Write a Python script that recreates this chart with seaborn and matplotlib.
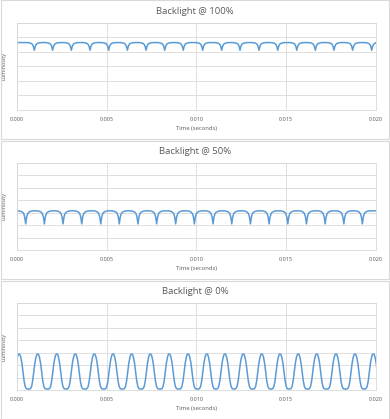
import matplotlib
matplotlib.use("Agg")
import matplotlib.pyplot as plt
from matplotlib.patches import Rectangle
from matplotlib.ticker import FormatStrFormatter
import numpy as np
import pandas as pd
import seaborn as sns

# panel titles and y ranges (gridline count differs on the first panel)
titles = ["Backlight @ 100%", "Backlight @ 50%", "Backlight @ 0%"]
y_max = [6, 7, 7]
x_ticks = [0.000, 0.005, 0.010, 0.015, 0.020]

# dip centres (ms)
dips_100 = [0.98, 2.00, 3.04, 4.08, 5.12, 6.16, 7.20, 8.24, 9.27, 10.35,
            11.41, 12.43, 13.49, 14.53, 15.59, 16.62, 17.66, 18.70, 19.76]
dips_50 = [0.50, 1.54, 2.58, 3.62, 4.68, 5.71, 6.75, 7.79, 8.85, 9.89,
           10.93, 11.97, 13.01, 14.05, 15.09, 16.13, 17.17, 18.21, 19.24]
# peak centres of the 0% trace (ms)
peaks_0 = [0.13, 1.17, 2.23, 3.26, 4.32, 5.36, 6.40, 7.44, 8.49, 9.54,
           10.58, 11.59, 12.61, 13.64, 14.66, 15.67, 16.70, 17.77, 18.83, 19.85]

# level and dip bottom of the two upper traces
level_100, bottom_100 = 4.65, 4.12
level_50, bottom_50 = 3.15, 2.10

# shape of one dip (ms offset, fraction of depth)
dip_offsets = [-0.40, -0.26, -0.16, -0.10, -0.05, -0.02, 0.0,
               0.02, 0.05, 0.10, 0.16, 0.26, 0.40]
dip_shape = [0.0, 0.04, 0.12, 0.25, 0.5, 0.8, 1.0,
             0.8, 0.5, 0.25, 0.12, 0.04, 0.0]

# shape of one pulse of the 0% trace (ms offset, luminosity)
pk_offsets = [-0.46, -0.40, -0.34, -0.28, -0.22, -0.16, -0.10, -0.05, 0.0,
              0.05, 0.10, 0.16, 0.22, 0.28, 0.34, 0.40, 0.46]
pk_values = [0.08, 0.12, 0.30, 0.75, 1.45, 2.15, 2.62, 2.85, 2.90,
             2.85, 2.62, 2.15, 1.45, 0.75, 0.30, 0.12, 0.08]


def dip_trace(centres, level, bottom):
    t = [0.0, 20.0]
    v = [level, level]
    for c in centres:
        for o, s in zip(dip_offsets, dip_shape):
            t.append(c + o)
            v.append(level - (level - bottom) * s)
    df = pd.DataFrame({"time": np.array(t) / 1000, "lum": v})
    return df.sort_values("time")


def pulse_trace(centres):
    t, v = [], []
    for c in centres:
        for o, val in zip(pk_offsets, pk_values):
            t.append(c + o)
            v.append(val)
    df = pd.DataFrame({"time": np.array(t) / 1000, "lum": v})
    return df.sort_values("time")


traces = [dip_trace(dips_100, level_100, bottom_100),
          dip_trace(dips_50, level_50, bottom_50),
          pulse_trace(peaks_0)]

sns.set_theme(style="white")
plt.rcParams["font.family"] = ["Open Sans", "DejaVu Sans"]

W, H = 390, 419
fig = plt.figure(figsize=(W / 100, H / 100), dpi=100)
txt = "#595959"
grid = "#D9D9D9"

for i in range(3):
    top = 140 * i
    # chart border
    fig.patches.append(Rectangle((0.5 / W, 1 - (top + 139) / H), (W - 2) / W, 138.5 / H,
                                 transform=fig.transFigure, fill=False,
                                 edgecolor=grid, linewidth=0.8))
    ax = fig.add_axes([16.7 / W, 1 - (top + 110) / H, 359.3 / W, 87 / H])
    sns.lineplot(data=traces[i], x="time", y="lum", ax=ax, color="#5B9BD5",
                 linewidth=1.1, estimator=None, sort=False)
    ax.set_xlim(0, 0.02)
    ax.set_ylim(0, y_max[i])
    ax.set_xticks(x_ticks)
    ax.set_yticks(range(y_max[i] + 1))
    ax.xaxis.set_major_formatter(FormatStrFormatter("%.3f"))
    ax.set_yticklabels([])
    ax.grid(True, color=grid, linewidth=0.6)
    for s in ax.spines.values():
        s.set_color(grid)
        s.set_linewidth(0.6)
    ax.tick_params(length=0, labelsize=4, labelcolor=txt, pad=5)
    ax.set_xlabel("Time (seconds)", fontsize=4.2, color=txt, labelpad=3)
    ax.set_ylabel("Luminosity", fontsize=4, color=txt, labelpad=2)
    fig.text(0.5, 1 - (top + 11) / H, titles[i], ha="center", va="center",
             fontsize=6.8, color=txt)

fig.savefig("out.png", dpi=100)
